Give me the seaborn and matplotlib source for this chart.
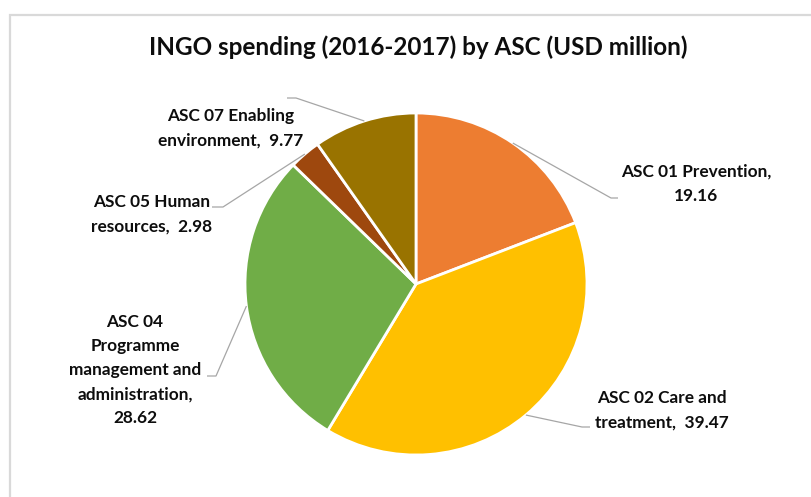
import numpy as np
import matplotlib
matplotlib.use("Agg")
import matplotlib.pyplot as plt
from matplotlib.patches import Rectangle
import seaborn as sns

# Spending by ASC category, USD million
categories = ["ASC 01 Prevention", "ASC 02 Care and treatment",
              "ASC 04 Programme management and administration",
              "ASC 05 Human resources", "ASC 07 Enabling environment"]
values = [19.16, 39.47, 28.62, 2.98, 9.77]
label_texts = ["ASC 01 Prevention,\n{v:.2f}",
               "ASC 02 Care and\ntreatment,  {v:.2f}",
               "ASC 04\nProgramme\nmanagement and\nadministration,\n{v:.2f}",
               "ASC 05 Human\nresources,  {v:.2f}",
               "ASC 07 Enabling\nenvironment,  {v:.2f}"]
colors = ["#ED7D31", "#FFC000", "#70AD47", "#9E480E", "#997300"]
title = "INGO spending (2016-2017) by ASC (USD million)"

sns.set_theme(style="white")
plt.rcParams["font.family"] = ["Lato", "DejaVu Sans"]

W, H = 811, 497
fig = plt.figure(figsize=(W / 100, H / 100), dpi=100)
ax = fig.add_axes([0, 0, 1, 1])

# chart frame (only top and left edges fall inside the canvas)
ax.add_patch(Rectangle((9.5, -20), W + 40, H - 14.5 + 20, fill=False,
                       edgecolor="#D9D9D9", lw=1.6, zorder=0))

cx, cy, r = 416, H - 284, 171
wedges, _ = ax.pie(values, colors=colors, startangle=90, counterclock=False,
                   center=(cx, cy), radius=r, frame=True,
                   wedgeprops=dict(edgecolor="white", linewidth=2))
ax.set_xlim(0, W)
ax.set_ylim(0, H)
ax.set_aspect("equal")
ax.axis("off")

# label layout: elbow point, end point of the leader, text centre (pixel coords from top)
layout = [
    ((611, 198), (618, 198), (696, 184)),
    ((582, 427), (590, 427), (662, 410)),
    ((216, 376), (207, 376), (135, 370)),
    ((223, 207), (212, 207), (152, 214)),
    ((296, 98), (287, 98), (231, 128)),
]

for w, v, txt, (elbow, end, tc) in zip(wedges, values, label_texts, layout):
    ang = np.deg2rad((w.theta1 + w.theta2) / 2)
    sx, sy = cx + r * np.cos(ang), cy + r * np.sin(ang)
    ax.plot([sx, elbow[0], end[0]], [sy, H - elbow[1], H - end[1]],
            color="#A6A6A6", lw=0.9, zorder=1, solid_capstyle="butt")
    ax.text(tc[0], H - tc[1], txt.format(v=v), ha="center", va="center",
            fontsize=12.4, fontweight="bold", color="#0D0D0D", linespacing=1.62)

ax.text(418, H - 47, title, ha="center", va="center", fontsize=17.5,
        fontweight="bold", color="#0D0D0D")

fig.savefig("out.png", dpi=100, facecolor="white")
